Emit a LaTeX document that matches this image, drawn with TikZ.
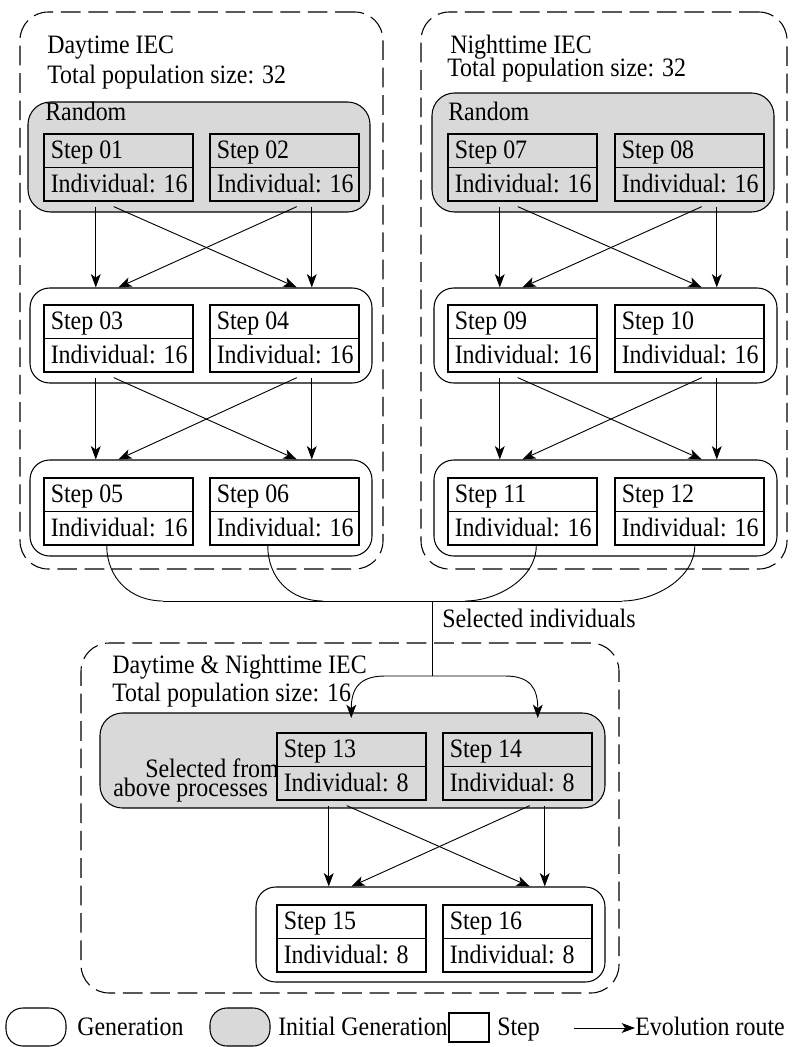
\documentclass[tikz,border=0pt]{standalone}
\usepackage{fontspec}
\setmainfont{Liberation Serif}[FakeStretch=0.9]
\usetikzlibrary{arrows.meta,calc,fit,shapes.multipart}
\definecolor{GenGray}{HTML}{D9D9D9}
\newlength{\pxu}
\setlength{\pxu}{0.025cm}
\newcommand{\steptext}[1]{\makebox[135\pxu][l]{\rule[-8\pxu]{0pt}{32\pxu}#1}}
\newcommand{\stepnode}[5]{\node[stepbox] (#1) at (#2,#3) {\steptext{Step #4}\nodepart{two}\steptext{Individual: #5}};}
\newcommand{\evolve}[3]{%
  \coordinate (ra) at ($(#1.south)+(-22.5,0)$);
  \coordinate (rb) at ($(#2.south)+(12.5,0)$);
  \coordinate (rc) at ($(#2.south)+(27.5,0)$);
  \draw[route] ($(#1.south)+(-22.5,5)$) -- (ra |- #3.north);
  \draw[route] ($(#1.south)+(-4.5,5)$) -- (rb |- #3.north);
  \draw[route] ($(#2.south)+(12.5,5)$) -- (#1.south |- #3.north);
  \draw[route] ($(#2.south)+(27.5,5)$) -- (rc |- #3.north);}
\tikzset{
  outerbox/.style={draw,dash pattern=on 14pt off 5.5pt,line width=.75pt,rounded corners=20pt,inner sep=0pt},
  genbox/.style={draw,line width=.75pt,rounded corners=14pt,inner sep=0pt},
  initbox/.style={genbox,fill=GenGray,rounded corners=16pt},
  stepbox/.style={draw,line width=1.1pt,rectangle split,rectangle split parts=2,inner xsep=7\pxu,inner ysep=0pt,anchor=north west},
  txt/.style={anchor=base west,inner sep=0pt},
  route/.style={-{Stealth[length=9.5pt,width=7pt,inset=2.5pt]},line width=.65pt},
  link/.style={line width=.65pt}
}

\begin{document}
\begin{tikzpicture}[x=0.025cm,y=-0.025cm,font=\fontsize{18.9}{22}\selectfont]
\useasboundingbox (0,0) rectangle (795,1047);
\node[outerbox,fit={(20,12) (383,569)}] (day) {};
\node[outerbox,fit={(421,12) (787,569)}] (night) {};
\node[outerbox,fit={(81,643) (619,993)}] (both) {};
\node[initbox,fit={(28,102) (370,212)}] (gd1) {};
\node[genbox,fit={(30,288) (372,383)}] (gd2) {};
\node[genbox,fit={(30,460) (372,556)}] (gd3) {};
\node[initbox,fit={(432,93) (774,212)}] (gn1) {};
\node[genbox,fit={(434,288) (777,383)}] (gn2) {};
\node[genbox,fit={(434,460) (777,556)}] (gn3) {};
\node[initbox,fit={(100,713) (605,808)}] (gb1) {};
\node[genbox,fit={(256,887) (605,982)}] (gb2) {};
\node[txt] (daytitle) at (47,53) {Daytime IEC};
\node[txt] (daysize) at (47,83) {Total population size: 32};
\node[txt] (dayrand) at (45,120) {Random};
\node[txt] (nighttitle) at (450,53) {Nighttime IEC};
\node[txt] (nightsize) at (447,76) {Total population size: 32};
\node[txt] (nightrand) at (448,120) {Random};
\node[txt] (bothtitle) at (112,673) {Daytime \& Nighttime IEC};
\node[txt] (bothsize) at (112,701) {Total population size: 16};
\node[txt] (selfrom) at (145,777) {Selected from};
\node[txt] (selabove) at (113,796) {above processes};
\stepnode{s01}{43}{133}{01}{16}
\stepnode{s02}{209}{133}{02}{16}
\stepnode{s03}{43}{304}{03}{16}
\stepnode{s04}{209}{304}{04}{16}
\stepnode{s05}{43}{477}{05}{16}
\stepnode{s06}{209}{477}{06}{16}
\stepnode{s07}{447}{133}{07}{16}
\stepnode{s08}{614}{133}{08}{16}
\stepnode{s09}{447}{304}{09}{16}
\stepnode{s10}{614}{304}{10}{16}
\stepnode{s11}{447}{477}{11}{16}
\stepnode{s12}{614}{477}{12}{16}
\stepnode{s13}{276}{732}{13}{8}
\stepnode{s14}{442}{732}{14}{8}
\stepnode{s15}{276}{904}{15}{8}
\stepnode{s16}{442}{904}{16}{8}
\evolve{s01}{s02}{gd2}
\evolve{s03}{s04}{gd3}
\evolve{s07}{s08}{gn2}
\evolve{s09}{s10}{gn3}
\evolve{s13}{s14}{gb2}
\coordinate (m1) at (163,601);
\coordinate (m2) at (323,601);
\coordinate (m3) at (465,601);
\coordinate (m4) at (622,601);
\coordinate (join) at (432,601);
\coordinate (fork) at (432,676);
\draw[link] ($(s05.south)+(-11.5,0)$) .. controls +(0,33) and +(-32,0) .. (m1);
\draw[link] ($(s06.south)+(-16.5,0)$) .. controls +(0,33) and +(-32,0) .. (m2);
\draw[link] ($(s11.south)+(14,0)$) .. controls +(0,33) and +(32,0) .. (m3);
\draw[link] ($(s12.south)+(5.5,0)$) .. controls +(0,33) and +(32,0) .. (m4);
\draw[link] (m1) -- (m4);
\draw[link] (join) -- (fork);
\node[txt] (seltext) at (442,627) {Selected individuals};
\draw[route] (fork) -- ++(-47,0) .. controls +(-25,0) and +(0,-30) .. ($(s13.north)+(0,-14)$);
\draw[route] (fork) -- ++(73,0) .. controls +(25,0) and +(0,-30) .. ($(s14.north)+(20.5,-14)$);
\node[genbox,rounded corners=12pt,fit={(6,1008) (66,1046)}] (lgen) {};
\node[txt] (lgentext) at (77,1035) {Generation};
\node[initbox,rounded corners=12pt,fit={(210,1008) (270,1046)}] (linit) {};
\node[txt] (linittext) at (278,1035) {Initial Generation};
\node[draw,line width=1.1pt,inner sep=0pt,fit={(449,1013) (489,1042)}] (lstep) {};
\node[txt] (lsteptext) at (497,1035) {Step};
\coordinate (lra) at (574,1028);
\node[txt] (lroute) at (635,1035) {Evolution route};
\draw[route] (lra) -- (lra -| lroute.west);
\end{tikzpicture}
\end{document}
